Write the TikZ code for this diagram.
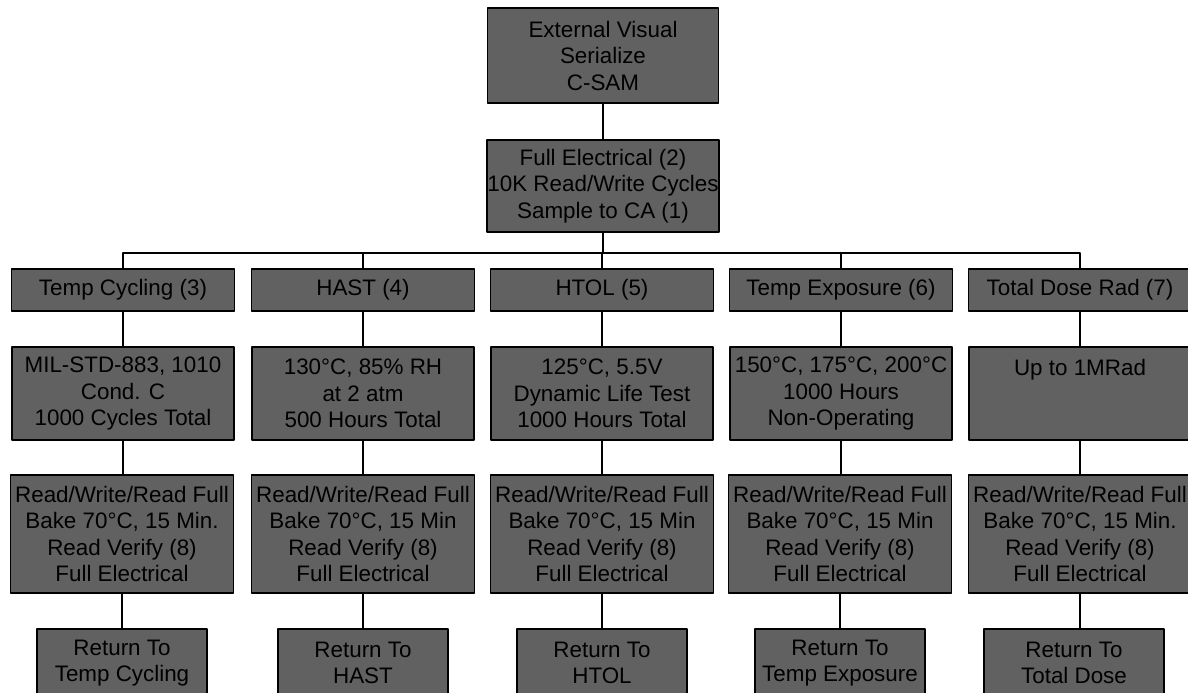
\documentclass[tikz,border=0pt]{standalone}
\usepackage{fontspec}
\setmainfont{Liberation Sans}
\begin{document}
\begin{tikzpicture}[x=0.5pt,y=-0.5pt,line cap=round,line join=round,
	testbox/.style={draw=black,line width=0.6pt,fill=black!62,text=black,align=center,inner sep=0pt,font=\fontsize{11.2}{13.25}\selectfont},
	headbox/.style={testbox,minimum width=111.5pt,minimum height=21pt},
	condbox/.style={testbox,minimum width=111pt,minimum height=46.5pt},
	readbox/.style={testbox,minimum width=111.5pt,minimum height=59pt},
	backbox/.style={testbox,minimum width=85pt,minimum height=34pt},
	link/.style={line width=0.8pt,color=black}]
	\useasboundingbox (0,0) rectangle (1188,692);
	\clip (0,0) rectangle (1188,692);
	% incoming inspection
	\node[testbox,minimum width=115.5pt,minimum height=47.5pt] (visual) at (603,55.5) {External Visual\\Serialize\\C-SAM};
	\node[testbox,minimum width=116pt,minimum height=46pt] (fullel) at (603,186) {Full Electrical (2)\\10K Read/Write Cycles\\Sample to CA (1)};
	\coordinate (bus) at (603,253);
	% stress legs
	\node[headbox] (tc) at (123,290) {Temp Cycling (3)};
	\node[headbox] (hast) at (363,290) {HAST (4)};
	\node[headbox] (htol) at (602,290) {HTOL (5)};
	\node[headbox] (te) at (841,290) {Temp Exposure (6)};
	\node[headbox] (tid) at (1080,290) {Total Dose Rad (7)};
	% conditions
	\node[condbox] (tccond) at (123,393.5) {MIL-STD-883, 1010\\Cond. C\\1000 Cycles Total};
	\node[condbox] (hastcond) at (363,393.5) {130°C, 85\% RH\\at 2 atm\\500 Hours Total};
	\node[condbox] (htolcond) at (602,393.5) {125°C, 5.5V\\Dynamic Life Test\\1000 Hours Total};
	\node[condbox] (tecond) at (841,393.5) {150°C, 175°C, 200°C\\1000 Hours\\Non-Operating};
	\node[condbox] (tidcond) at (1080,393.5) {Up to 1MRad\\~\\~};
	% read/write checks
	\node[readbox] (tcread) at (122,534) {Read/Write/Read Full\\Bake 70°C, 15 Min.\\Read Verify (8)\\Full Electrical};
	\node[readbox] (hastread) at (363,534) {Read/Write/Read Full\\Bake 70°C, 15 Min\\Read Verify (8)\\Full Electrical};
	\node[readbox] (htolread) at (602,534) {Read/Write/Read Full\\Bake 70°C, 15 Min\\Read Verify (8)\\Full Electrical};
	\node[readbox] (teread) at (840,534) {Read/Write/Read Full\\Bake 70°C, 15 Min\\Read Verify (8)\\Full Electrical};
	\node[readbox] (tidread) at (1080,534) {Read/Write/Read Full\\Bake 70°C, 15 Min.\\Read Verify (8)\\Full Electrical};
	% loop back
	\node[backbox] (tcback) at (122,663) {Return To\\Temp Cycling};
	\node[backbox] (hastback) at (363,663) {Return To\\HAST};
	\node[backbox] (htolback) at (602,663) {Return To\\HTOL};
	\node[backbox] (teback) at (840,663) {Return To\\Temp Exposure};
	\node[backbox,minimum width=90pt] (tidback) at (1074,663) {Return To\\Total Dose};
	% connectors
	\draw[link] (visual) -- (fullel);
	\draw[link] (fullel) -- (bus);
	\draw[link] (tc.north) |- (bus);
	\draw[link] (hast.north) |- (bus);
	\draw[link] (htol.north) |- (bus);
	\draw[link] (te.north) |- (bus);
	\draw[link] (tid.north) |- (bus);
	\draw[link] (tc) -- (tccond);
	\draw[link] (hast) -- (hastcond);
	\draw[link] (htol) -- (htolcond);
	\draw[link] (te) -- (tecond);
	\draw[link] (tid) -- (tidcond);
	\draw[link] (tccond.south) -- (tccond.south |- tcread.north);
	\draw[link] (hastcond.south) -- (hastcond.south |- hastread.north);
	\draw[link] (htolcond.south) -- (htolcond.south |- htolread.north);
	\draw[link] (tecond.south) -- (tecond.south |- teread.north);
	\draw[link] (tidcond.south) -- (tidcond.south |- tidread.north);
	\draw[link] (tcread.south) -- (tcread.south |- tcback.north);
	\draw[link] (hastread.south) -- (hastread.south |- hastback.north);
	\draw[link] (htolread.south) -- (htolread.south |- htolback.north);
	\draw[link] (teread.south) -- (teread.south |- teback.north);
	\draw[link] (tidread.south) -- (tidread.south |- tidback.north);
\end{tikzpicture}
\end{document}
